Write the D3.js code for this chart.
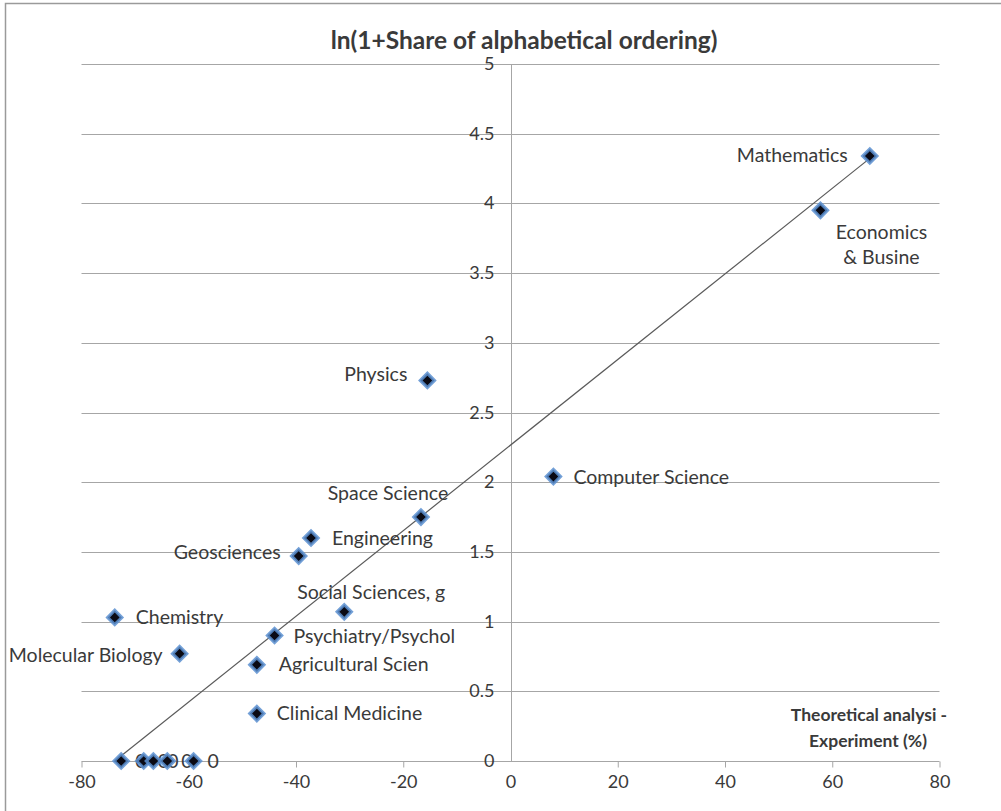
<!DOCTYPE html>
<html>
<head>
<meta charset="utf-8">
<script src="https://cdn.jsdelivr.net/npm/d3@7"></script>
<style>
  body { margin: 0; background: #fff; }
  text { font-family: Lato, "Open Sans", sans-serif; fill: #3a3a3a; }
</style>
</head>
<body>
<script>
// fields (labels as shown in the chart, truncated the same way)
var fields = ["Mathematics", "Economics & Busine", "Physics", "Computer Science", "Space Science",
              "Engineering", "Geosciences", "Social Sciences, g", "Chemistry", "Psychiatry/Psychol",
              "Molecular Biology", "Agricultural Scien", "Clinical Medicine", "0", "0", "0", "0", "0"];
// Theoretical analysis - Experiment (%)
var diffValues = [67.0, 57.8, -15.5, 8.0, -16.7, -37.2, -39.5, -31.0, -73.8, -44.0,
                  -61.7, -47.3, -47.3, -72.6, -68.4, -66.6, -64.0, -59.1];
// ln(1 + share of alphabetical ordering)
var lnShare = [4.34, 3.95, 2.73, 2.04, 1.75, 1.60, 1.47, 1.07, 1.03, 0.90,
               0.77, 0.69, 0.34, 0, 0, 0, 0, 0];
// linear trendline as drawn: [slope, intercept]
var trendCoef = [0.0307, 2.266];
var xTicks = [-80, -60, -40, -20, 0, 20, 40, 60, 80];
var yTicks = [0, 0.5, 1, 1.5, 2, 2.5, 3, 3.5, 4, 4.5, 5];

// label placement relative to the point
var labelPos = [
  {a: "end", dx: -22, dy: 6}, {a: "middle", dx: 61, dy: 29}, {a: "end", dx: -20, dy: 1},
  {a: "start", dx: 20, dy: 7}, {a: "middle", dx: -33, dy: -17}, {a: "start", dx: 21, dy: 7},
  {a: "end", dx: -18, dy: 3}, {a: "middle", dx: 27, dy: -13}, {a: "start", dx: 21, dy: 7},
  {a: "start", dx: 19, dy: 7}, {a: "end", dx: -17, dy: 8}, {a: "start", dx: 22, dy: 6},
  {a: "start", dx: 20, dy: 6}, {a: "start", dx: 14, dy: 7}, {a: "start", dx: 14, dy: 7},
  {a: "start", dx: 14, dy: 7}, {a: "start", dx: 14, dy: 7}, {a: "start", dx: 14, dy: 7}
];

var W = 1001, H = 811;
var svg = d3.select("body").append("svg").attr("width", W).attr("height", H);

// frame
svg.append("path").attr("d", "M5.5,811V3.5H1001")
   .attr("fill", "none").attr("stroke", "#9a9a9a").attr("stroke-width", 1.5);

var x = d3.scaleLinear().domain([-80, 80]).range([81.5, 939.5]);
var y = d3.scaleLinear().domain([0, 5]).range([761, 64]);

// gridlines
svg.append("g").selectAll("line").data(yTicks.filter(function (d) { return d > 0; }))
   .enter().append("line")
   .attr("x1", x(-80)).attr("x2", x(80))
   .attr("y1", function (d) { return Math.round(y(d)) + 0.5; })
   .attr("y2", function (d) { return Math.round(y(d)) + 0.5; })
   .attr("stroke", "#a6a6a6").attr("stroke-width", 1);

// y axis line
svg.append("line").attr("x1", Math.round(x(0)) + 0.5).attr("x2", Math.round(x(0)) + 0.5)
   .attr("y1", y(5)).attr("y2", y(0))
   .attr("stroke", "#a6a6a6");

// x axis
var xAxis = svg.append("g").attr("transform", "translate(0," + (Math.round(y(0)) + 0.5) + ")")
   .call(d3.axisBottom(x).tickValues(xTicks).tickSize(6).tickPadding(8)
     .tickFormat(function (d) { return String(d); }));
xAxis.select(".domain").attr("stroke", "#a6a6a6").attr("d", "M" + x(-80) + ",0H" + x(80));
xAxis.selectAll(".tick line").attr("stroke", "#a6a6a6");
xAxis.selectAll(".tick text").attr("font-size", 18).attr("font-family", "Lato").attr("fill", "#3a3a3a");
xAxis.selectAll(".tick").filter(function (d) { return d === 0; }).select("line").remove();

// y tick labels
svg.append("g").selectAll("text").data(yTicks).enter().append("text")
   .attr("x", x(0) - 16).attr("y", function (d) { return y(d) + 6; })
   .attr("text-anchor", "end").attr("font-size", 18)
   .text(function (d) { return d; });

// trendline over the data's x range
var ext = d3.extent(diffValues);
svg.append("line")
   .attr("x1", x(ext[0])).attr("y1", y(trendCoef[1] + trendCoef[0] * ext[0]))
   .attr("x2", x(ext[1])).attr("y2", y(trendCoef[1] + trendCoef[0] * ext[1]))
   .attr("stroke", "#5a5a5a").attr("stroke-width", 1.2);

// labels
svg.append("clipPath").attr("id", "clip").append("rect")
   .attr("x", 0).attr("y", 0).attr("width", 927).attr("height", H);
var pts = fields.map(function (f, i) { return {name: f, x: diffValues[i], y: lnShare[i], pos: labelPos[i]}; });
var lab = svg.append("g").attr("clip-path", "url(#clip)");
lab.selectAll("text").data(pts).enter().append("text")
   .attr("x", function (d) { return x(d.x) + d.pos.dx; })
   .attr("y", function (d) { return y(d.y) + d.pos.dy; })
   .attr("text-anchor", function (d) { return d.pos.a; })
   .attr("font-size", 19.5)
   .each(function (d) {
     var parts = d.name.indexOf(" & ") > 0 ? d.name.split(" & ") : [d.name];
     var t = d3.select(this);
     if (parts.length === 1) { t.text(d.name); return; }
     t.append("tspan").attr("x", x(d.x) + d.pos.dx).text(parts[0]);
     t.append("tspan").attr("x", x(d.x) + d.pos.dx).attr("dy", 25).text("& " + parts[1]);
   });

// markers
var diamond = d3.symbol().type(d3.symbolSquare).size(100);
svg.append("g").selectAll("path").data(pts).enter().append("path")
   .attr("d", diamond)
   .attr("transform", function (d) { return "translate(" + x(d.x) + "," + y(d.y) + ") rotate(45)"; })
   .attr("fill", "#0a0a14").attr("stroke", "#5b8fd0").attr("stroke-width", 3.2)
   .attr("stroke-opacity", 0.85);

// title
svg.append("text").attr("x", 524).attr("y", 49).attr("text-anchor", "middle")
   .attr("font-size", 24.5).attr("font-weight", "bold").attr("fill", "#1a1a1a")
   .text("ln(1+Share of alphabetical ordering)");

// x axis title
var xt = svg.append("text").attr("text-anchor", "middle").attr("font-size", 17.5)
   .attr("font-weight", "bold").attr("fill", "#1a1a1a");
xt.append("tspan").attr("x", 869).attr("y", 721).text("Theoretical analysi -");
xt.append("tspan").attr("x", 868).attr("y", 747).text("Experiment (%)");
</script>
</body>
</html>
